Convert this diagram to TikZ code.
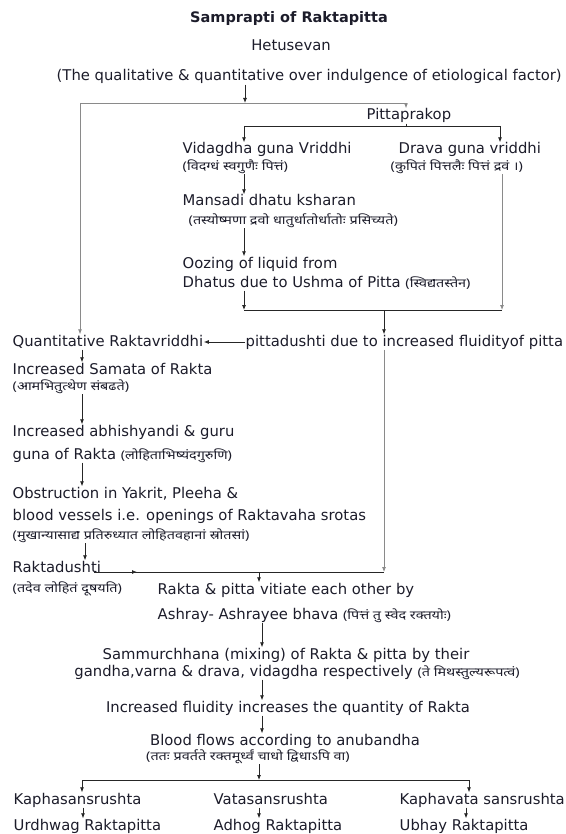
\documentclass[tikz,border=0pt]{standalone}
\usepackage{fontspec}
\setmainfont{DejaVu Sans}
\newfontfamily\devfont[Script=Devanagari, FakeStretch=1.2]{Noto Sans}
\usetikzlibrary{arrows.meta, positioning}
\definecolor{inkdark}{HTML}{1C1C2A}
\definecolor{linegray}{HTML}{8A8A8A}
\newcommand{\dev}[1]{{\devfont\fontsize{12}{14}\selectfont #1}}

\begin{document}
\begin{tikzpicture}[
    x=1pt, y=-1pt,
    txt/.style={inner sep=0.5pt, text=inkdark, font=\fontsize{14.8}{18}\selectfont, text height=11pt, text depth=3pt},
    lft/.style={txt, anchor=west},
    hin/.style={inner sep=0.5pt, text=inkdark, font=\devfont\fontsize{12}{14}\selectfont, text height=8.5pt, text depth=3pt, anchor=west},
    arrow/.style={-{Latex[length=5pt,width=4pt]}, line width=0.8pt, draw=black!85},
    link/.style={line width=0.8pt, draw=black!85},
    glink/.style={line width=0.8pt, draw=linegray}
]
\useasboundingbox (0,0) rectangle (565,834);
\node[txt, font=\bfseries\fontsize{14.5}{17}\selectfont] (title) at (289,19) {Samprapti of Raktapitta};
\node[txt] (hetu) at (291,47) {Hetusevan};
\node[lft] (etio) at (56,77) {(The qualitative \& quantitative over indulgence of etiological factor)};
\node[lft] (pittap) at (366,116) {Pittaprakop};
\node[lft] (vid) at (182,150) {Vidagdha guna Vriddhi};
\node[hin] (vidh) at (182,168) {(विदग्धं स्वगुणैः पित्तं)};
\node[lft] (drava) at (398,150) {Drava guna vriddhi};
\node[hin] (dravah) at (390,168) {(कुपितं पित्तलैः पित्तं द्रवं ।)};
\node[lft] (mans) at (182,202) {Mansadi dhatu ksharan};
\node[hin] (mansh) at (188,222) {(तस्योष्मणा द्रवो धातुर्धातोर्धातोः प्रसिच्यते)};
\node[lft] (ooz) at (182,264) {Oozing of liquid from};
\node[lft] (oozb) at (182,283) {Dhatus due to Ushma of Pitta \dev{(स्विद्यतस्तेन)}};
\node[lft] (quant) at (12,342) {Quantitative Raktavriddhi};
\node[lft] (pdushti) at (245,342) {pittadushti due to increased fluidityof pitta};
\node[lft] (sama) at (12,370) {Increased Samata of Rakta};
\node[hin] (samah) at (12,388) {(आमभितुत्थेण संबढते)};
\node[lft] (abhi) at (12,432) {Increased abhishyandi \& guru};
\node[lft] (abhib) at (12,455) {guna of Rakta \dev{(लोहिताभिष्यंदगुरुणि)}};
\node[lft] (obs) at (12,494) {Obstruction in Yakrit, Pleeha \&};
\node[lft] (obsb) at (12,516) {blood vessels i.e. openings of Raktavaha srotas};
\node[hin] (obsh) at (12,537) {(मुखान्यासाद्य प्रतिरुध्यात लोहितवहानां स्रोतसां)};
\node[lft] (rdushti) at (12,568) {Raktadushti};
\node[hin] (rdushtih) at (12,590) {(तदेव लोहितं दूषयति)};
\node[lft] (vit) at (157,590) {Rakta \& pitta vitiate each other by};
\node[lft] (vitb) at (157,615) {Ashray- Ashrayee bhava \dev{(पित्तं तु स्वेद रक्तयोः)}};
\node[txt] (samm) at (286,655) {Sammurchhana (mixing) of Rakta \& pitta by their};
\node[txt] (sammb) at (297,672) {gandha,varna \& drava, vidagdha respectively \dev{(ते मिथस्तुल्यरूपत्वं)}};
\node[txt] (fluid) at (288,708) {Increased fluidity increases the quantity of Rakta};
\node[txt] (blood) at (285,741) {Blood flows according to anubandha};
\node[hin, anchor=center] (bloodh) at (248,758) {(ततः प्रवर्तते रक्तमूर्ध्वं चाधो द्विधाऽपि वा)};
\node[lft] (kapha) at (13,800) {Kaphasansrushta};
\node[lft] (vata) at (213,800) {Vatasansrushta};
\node[lft] (kv) at (399,800) {Kaphavata sansrushta};
\node[lft] (urdhwa) at (13,826) {Urdhwag Raktapitta};
\node[lft] (adhog) at (213,826) {Adhog Raktapitta};
\node[lft] (ubhay) at (399,826) {Ubhay Raktapitta};
\coordinate (topl) at (80,103);
\coordinate (topm) at (245,103);
\coordinate (topr) at (406,103);
\coordinate (brl) at (244,126);
\coordinate (brm) at (406,126);
\coordinate (brr) at (500,126);
\coordinate (joinl) at (244,310);
\coordinate (joinm) at (384,310);
\coordinate (joinr) at (502,310);
\coordinate (rdl) at (94,572);
\coordinate (rdm) at (259,572);
\coordinate (rdr) at (384,572);
\coordinate (endl) at (82,780);
\coordinate (endm) at (259,780);
\coordinate (endr) at (469,780);
\draw[arrow] (etio.south -| topm) -- (topm);
\draw[glink] (topl) -- (topr);
\draw[arrow, draw=linegray] (topr) -- (pittap.north -| topr);
\draw[arrow, draw=linegray] (topl) -- (quant.north -| topl);
\draw[link] (pittap.south -| brm) -- (brm);
\draw[link] (brl) -- (brr);
\draw[arrow] (brl) -- (vid.north -| brl);
\draw[arrow] (brr) -- (drava.north -| brr);
\draw[arrow] (vidh.south -| brl) -- (mans.north -| brl);
\draw[arrow] (mansh.south -| brl) -- (ooz.north -| brl);
\draw[arrow] (oozb.south -| joinl) -- (joinl);
\draw[arrow, draw=linegray] (dravah.south -| joinr) -- (joinr);
\draw[link] (joinl) -- (joinr);
\draw[arrow] (joinm) -- (pdushti.north -| joinm);
\draw[arrow] (pdushti.west) -- (quant.east);
\draw[arrow] (quant.south -| 82,0) -- (sama.north -| 82,0);
\draw[arrow] (samah.south -| 82,0) -- (abhi.north -| 82,0);
\draw[arrow] (abhib.south -| 82,0) -- (obs.north -| 82,0);
\draw[arrow] (obsh.south -| 85,0) -- (rdushti.north -| 85,0);
\draw[arrow, draw=linegray] (pdushti.south -| rdr) -- (rdr);
\draw[link] (rdl) -- (rdr);
\draw[arrow] (rdl) -- (137,572);
\draw[arrow] (rdm) -- (vit.north -| rdm);
\draw[arrow] (vitb.south -| 262,0) -- (samm.north -| 262,0);
\draw[arrow] (sammb.south -| 262,0) -- (fluid.north -| 262,0);
\draw[arrow] (fluid.south -| 262,0) -- (blood.north -| 262,0);
\draw[arrow] (bloodh.south -| endm) -- (endm);
\draw[link] (endl) -- (endr);
\draw[arrow] (endl) -- (kapha.north -| endl);
\draw[arrow] (endr) -- (kv.north -| endr);
\draw[arrow] (kapha.south -| 83,0) -- (urdhwa.north -| 83,0);
\draw[arrow] (vata.south -| 259,0) -- (adhog.north -| 259,0);
\draw[arrow] (kv.south -| 466,0) -- (ubhay.north -| 466,0);
\end{tikzpicture}
\end{document}
